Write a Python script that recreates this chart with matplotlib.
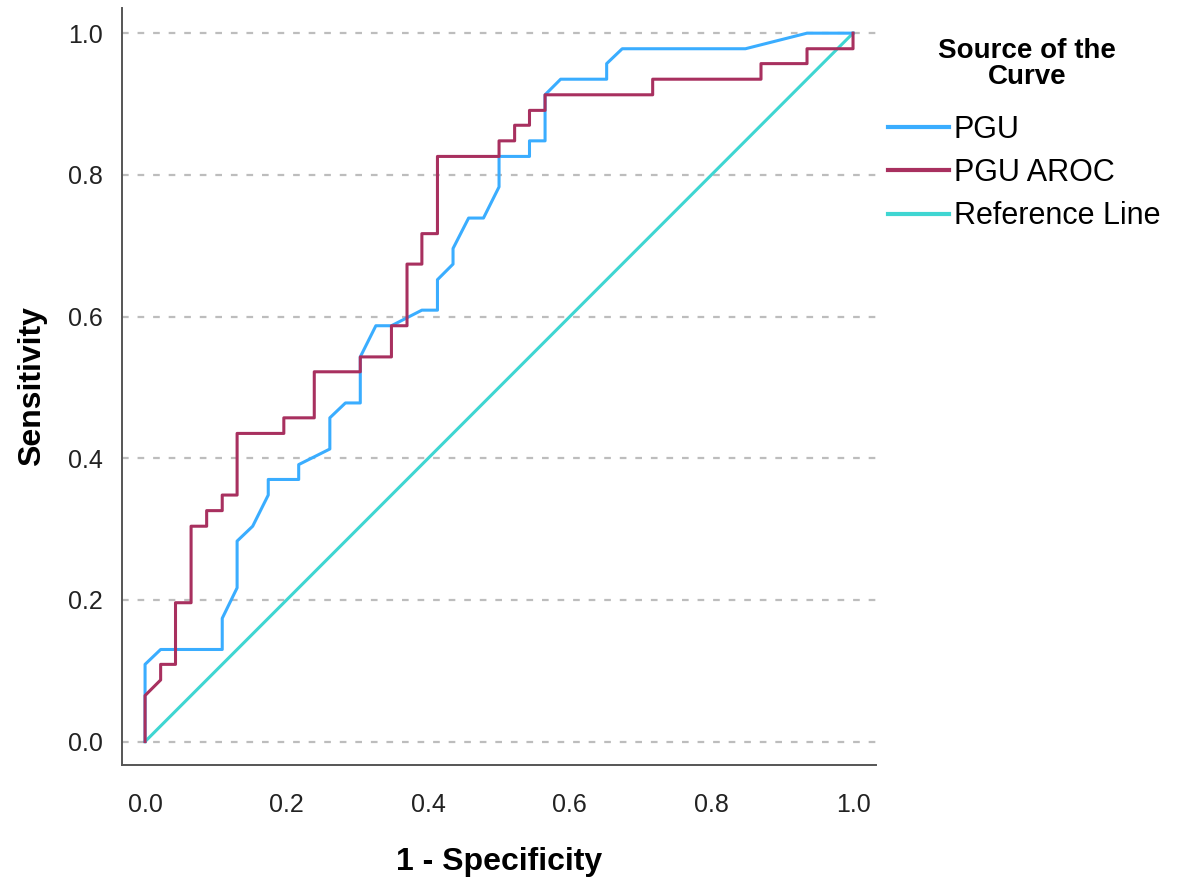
import matplotlib
matplotlib.use("Agg")
import matplotlib.pyplot as plt

plt.rcParams['font.family'] = ['Liberation Sans', 'DejaVu Sans']

# ROC data
pgu_fpr = [0, 0, .022, .109, .109, .130, .130, .152, .174, .174, .217, .217, .261,
           .261, .283, .304, .304, .326, .348, .391, .413, .413, .435, .435, .457,
           .478, .500, .500, .543, .543, .565, .565, .587, .652, .652, .674, .848,
           .935, 1]
pgu_tpr = [0, .109, .130, .130, .174, .217, .283, .304, .348, .370, .370, .391, .413,
           .457, .478, .478, .543, .587, .587, .609, .609, .652, .674, .696, .739,
           .739, .783, .826, .826, .848, .848, .913, .935, .935, .957, .978, .978,
           1, 1]

aroc_fpr = [0, 0, .022, .022, .043, .043, .065, .065, .087, .087, .109, .109, .130,
            .130, .196, .196, .239, .239, .304, .304, .348, .348, .370, .370, .391,
            .391, .413, .413, .500, .500, .522, .522, .543, .543, .565, .565, .717,
            .717, .870, .870, .935, .935, 1, 1]
aroc_tpr = [0, .065, .087, .109, .109, .196, .196, .304, .304, .326, .326, .348, .348,
            .435, .435, .457, .457, .522, .522, .543, .543, .587, .587, .674, .674,
            .717, .717, .826, .826, .848, .848, .870, .870, .891, .891, .913, .913,
            .935, .935, .957, .957, .978, .978, 1]

ref_x = [0, 1]
ref_y = [0, 1]

ticks = [0.0, 0.2, 0.4, 0.6, 0.8, 1.0]

fig = plt.figure(figsize=(11.77, 8.82), dpi=100)
ax = fig.add_axes([0.1037, 0.1327, 0.6406, 0.8583])

# dashed horizontal grid
for t in ticks:
    ax.axhline(t, color='#bdbdbd', lw=1.6, ls=(0, (3, 4)), zorder=1)

ax.plot(pgu_fpr, pgu_tpr, color='#3aadff', lw=2.2, label='PGU', zorder=3)
ax.plot(aroc_fpr, aroc_tpr, color='#a8305f', lw=2.2, label='PGU AROC', zorder=3)
ax.plot(ref_x, ref_y, color='#3fd6d2', lw=2.2, label='Reference Line', zorder=2)

ax.set_xlim(-0.0325, 1.0325)
ax.set_ylim(-0.033, 1.0356)
ax.set_xticks(ticks)
ax.set_yticks(ticks)
ax.set_xticklabels([f"{t:.1f}" for t in ticks])
ax.set_yticklabels([f"{t:.1f}" for t in ticks])
ax.tick_params(length=0, labelsize=18, colors='#222222', pad=14)
ax.tick_params(axis='x', pad=20)

for s in ['top', 'right']:
    ax.spines[s].set_visible(False)
for s in ['left', 'bottom']:
    ax.spines[s].set_color('#555555')
    ax.spines[s].set_linewidth(1.4)

ax.set_xlabel('1 - Specificity', fontsize=23, fontweight='bold', labelpad=22)
ax.set_ylabel('Sensitivity', fontsize=23, fontweight='bold', labelpad=15)

# legend title drawn separately to control spacing
fig.text(1027 / 1177, 1 - 64 / 882, 'Source of the\nCurve', ha='center', va='center',
         multialignment='center', fontsize=20, fontweight='bold', linespacing=1.05)

leg = ax.legend(loc='upper left', bbox_to_anchor=(888 / 1177, 1 - 115 / 882),
                bbox_transform=fig.transFigure, frameon=False, fontsize=22,
                handlelength=2.0, handletextpad=0.15, labelspacing=0.43,
                borderaxespad=0, borderpad=0)
for line in leg.get_lines():
    line.set_linewidth(3)

fig.savefig('out.png', dpi=100, facecolor='white')
